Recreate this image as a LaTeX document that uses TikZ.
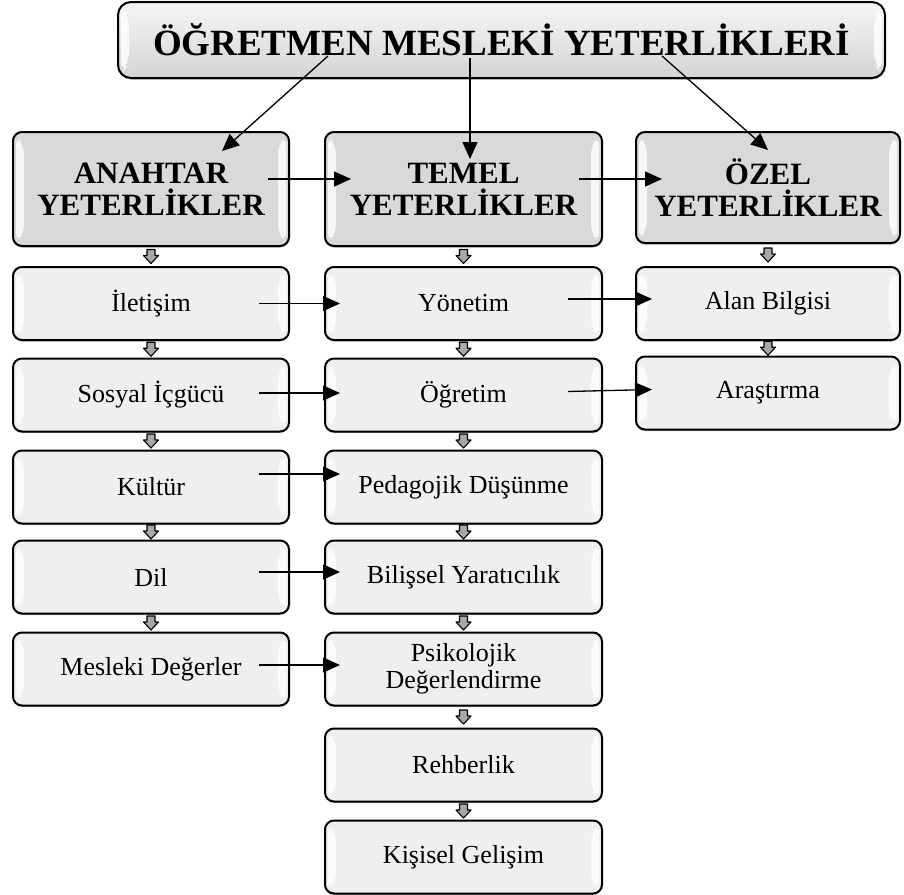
\documentclass[tikz,border=0pt]{standalone}
\usepackage{fontspec}
\setmainfont{Liberation Serif}
\usetikzlibrary{arrows.meta,calc,shadows}
\definecolor{rowfill}{HTML}{EFEFEF}
\definecolor{headfill}{HTML}{D9D9D9}
\definecolor{smallarr}{HTML}{A8A8A8}
\tikzset{
  bevel/.style={path picture={
    \fill[white,opacity=.8] ([shift={(3pt,-4pt)}]path picture bounding box.north west)
      -- ([shift={(11pt,-13pt)}]path picture bounding box.north west)
      -- ([shift={(11pt,13pt)}]path picture bounding box.south west)
      -- ([shift={(3pt,4pt)}]path picture bounding box.south west) -- cycle;
    \fill[white,opacity=.8] ([shift={(-3pt,-4pt)}]path picture bounding box.north east)
      -- ([shift={(-11pt,-13pt)}]path picture bounding box.north east)
      -- ([shift={(-11pt,13pt)}]path picture bounding box.south east)
      -- ([shift={(-3pt,4pt)}]path picture bounding box.south east) -- cycle;
  }},
  boxbase/.style={draw=black, line width=2pt, rounded corners=9pt, inner sep=0pt, align=center,
    text=black, bevel,
    drop shadow={shadow xshift=0pt, shadow yshift=-1.5pt, fill=black!30, opacity=1}},
  titlebox/.style={boxbase, rounded corners=13pt, minimum width=767pt, minimum height=76pt,
    top color=gray!8, bottom color=gray!34, middle color=gray!20,
    font=\fontsize{37}{40}\selectfont\bfseries},
  headbox/.style={boxbase, fill=headfill, minimum height=114pt,
    font=\fontsize{31}{32}\selectfont\bfseries},
  rowbox/.style={boxbase, fill=rowfill, minimum height=73pt,
    font=\fontsize{26}{27}\selectfont},
  colL/.style={minimum width=276pt},
  colM/.style={minimum width=277pt},
  colR/.style={minimum width=264pt},
  conn/.style={draw=black, line width=1.3pt, -{Triangle[length=17pt,width=15pt]}},
  downarr/.pic={\filldraw[fill=smallarr, draw=black, line width=1.1pt, line join=round]
    (-4,-7) -- (4,-7) -- (4,-1) -- (7.5,-1) -- (0,7) -- (-7.5,-1) -- (-4,-1) -- cycle;}
}
\begin{document}
\begin{tikzpicture}[x=1pt,y=-1pt]
\useasboundingbox (0,0) rectangle (904,894);
% title
\node[titlebox] (title) at (501.5,40) {ÖĞRETMEN MESLEKİ YETERLİKLERİ};
% headers
\node[headbox,colL] (anah) at (151,189) {ANAHTAR\\YETERLİKLER};
\node[headbox,colM] (temel) at (463.5,189) {TEMEL\\YETERLİKLER};
\node[headbox,colR,minimum height=111pt] (ozel) at (768,187.5) {ÖZEL\\YETERLİKLER};
% left column
\node[rowbox,colL] (ile) at (151,303.5) {İletişim};
\node[rowbox,colL] (sos) at (151,395) {Sosyal İçgücü};
\node[rowbox,colL] (kul) at (151,487) {Kültür};
\node[rowbox,colL] (dil) at (151,577) {Dil};
\node[rowbox,colL] (mes) at (151,669) {Mesleki Değerler};
% middle column
\node[rowbox,colM] (yon) at (463.5,303.5) {Yönetim};
\node[rowbox,colM] (ogr) at (463.5,395) {Öğretim};
\node[rowbox,colM] (ped) at (463.5,487) {Pedagojik Düşünme};
\node[rowbox,colM] (bil) at (463.5,577) {Bilişsel Yaratıcılık};
\node[rowbox,colM] (psi) at (463.5,669) {Psikolojik\\Değerlendirme};
\node[rowbox,colM] (reh) at (463.5,765) {Rehberlik};
\node[rowbox,colM] (kis) at (463.5,857) {Kişisel Gelişim};
% right column
\node[rowbox,colR] (alan) at (768,303.5) {Alan Bilgisi};
\node[rowbox,colR] (ara) at (768,393) {Araştırma};
% small block arrows
\foreach \a/\b in {anah/ile,ile/sos,sos/kul,kul/dil,dil/mes,
                   temel/yon,yon/ogr,ogr/ped,ped/bil,bil/psi,psi/reh,reh/kis,
                   ozel/alan,alan/ara}
  \pic at ($(\a.south)!0.5!(\b.north)$) {downarr};
% title connectors
\draw[conn] ([xshift=-173.5pt,yshift=23pt]title.south) -- ([xshift=71pt,yshift=-20pt]anah.north);
\draw[conn] ([xshift=-31.5pt,yshift=21pt]title.south) -- ([xshift=6.5pt,yshift=-28pt]temel.north);
\draw[conn] ([xshift=160.5pt,yshift=23pt]title.south) -- ([xshift=0pt,yshift=-19pt]ozel.north);
% header connectors
\draw[conn] ([xshift=-22pt,yshift=10pt]anah.east) -- ([xshift=27pt,yshift=10pt]temel.west);
\draw[conn] ([xshift=-24pt,yshift=10pt]temel.east) -- ([xshift=27pt,yshift=8.5pt]ozel.west);
% row connectors
\draw[conn] ([xshift=-31pt]ile.east) -- ([xshift=16pt]yon.west);
\draw[conn] ([xshift=-31pt,yshift=2pt]sos.east) -- ([xshift=16pt,yshift=2pt]ogr.west);
\draw[conn] ([xshift=-31pt,yshift=13pt]kul.east) -- ([xshift=16pt,yshift=13pt]ped.west);
\draw[conn] ([xshift=-31pt,yshift=5pt]dil.east) -- ([xshift=16pt,yshift=5pt]bil.west);
\draw[conn] ([xshift=-31pt,yshift=4pt]mes.east) -- ([xshift=16pt,yshift=4pt]psi.west);
\draw[conn] ([xshift=-35pt,yshift=4.5pt]yon.east) -- ([xshift=17pt,yshift=4.5pt]alan.west);
\draw[conn] ([xshift=-35pt,yshift=3.5pt]ogr.east) -- ([xshift=17pt,yshift=3.5pt]ara.west);
\end{tikzpicture}
\end{document}
